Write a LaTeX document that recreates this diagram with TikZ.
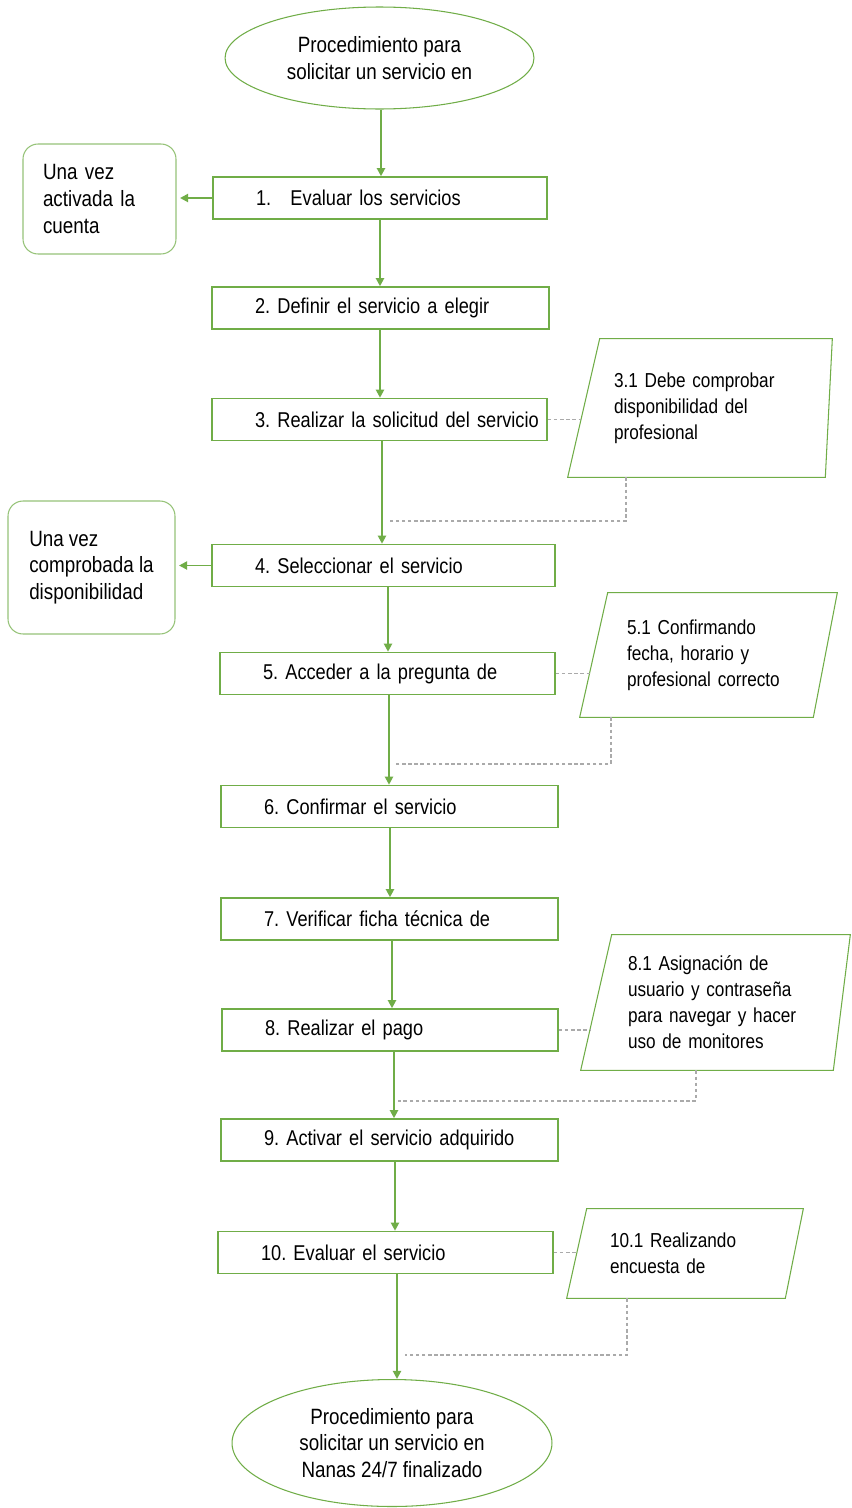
\documentclass[tikz,border=0pt]{standalone}
\usepackage{fontspec}
\setmainfont{Liberation Sans}[FakeStretch=0.85]
\usetikzlibrary{arrows.meta,shapes.geometric,calc}
\definecolor{stepgreen}{RGB}{112,173,71}
\definecolor{notegreen}{RGB}{150,195,120}
\definecolor{auxgray}{RGB}{170,170,170}
\frenchspacing
\hyphenpenalty=10000
\begin{document}
\begin{tikzpicture}[x=0.02cm,y=-0.02cm,>={Triangle[length=4.6pt,width=4.6pt]}]
	\tikzstyle{t-node}=[ellipse,draw=stepgreen,line width=0.6pt,inner sep=0pt,align=center]
	\tikzstyle{s-node}=[rectangle,draw=stepgreen,line width=0.9pt,inner xsep=0.1cm,minimum height=0.84cm,align=left,font=\fontsize{12.2pt}{15.1pt}\selectfont,execute at begin node={\hspace*{0.76cm}\hbox\bgroup},execute at end node={\egroup}]
	\tikzstyle{n-node}=[rectangle,rounded corners=0.3cm,draw=notegreen,line width=0.6pt,inner sep=0pt,align=left]
	\tikzstyle{p-node}=[rectangle,inner sep=0pt,align=left,font=\fontsize{11.5pt}{14.8pt}\selectfont]
	\tikzstyle{p-line}=[draw=stepgreen,line width=0.6pt]
	\tikzstyle{flow}=[->,draw=stepgreen,line width=1.1pt]
	\tikzstyle{aux}=[draw=auxgray,dash pattern=on 2pt off 1.5pt,line width=0.6pt]
	\useasboundingbox[fill=white] (0,0) rectangle (852,1508);
	\fontsize{12.6pt}{15.1pt}\selectfont

	% start / end
	\node[t-node,minimum width=6.18cm,minimum height=2.04cm] (start) at (379.5,58) {Procedimiento para\\solicitar un servicio en};
	\node[t-node,minimum width=6.4cm,minimum height=2.54cm] (stop) at (392,1443) {Procedimiento para\\solicitar un servicio en\\Nanas 24/7 finalizado};

	% steps
	\node[s-node,text width=6.48cm] (b1) at (380,198) {1.\hspace{0.9em}Evaluar los servicios};
	\node[s-node,text width=6.54cm] (b2) at (380.5,308) {2. Definir el servicio a elegir};
	\node[s-node,text width=6.50cm] (b3) at (379.5,419.5) {3. Realizar la solicitud del servicio};
	\node[s-node,text width=6.66cm] (b4) at (383.5,565.5) {4. Seleccionar el servicio};
	\node[s-node,text width=6.50cm] (b5) at (387.5,673.5) {5. Acceder a la pregunta de};
	\node[s-node,text width=6.54cm] (b6) at (389.5,806.5) {6. Confirmar el servicio};
	\node[s-node,text width=6.54cm] (b7) at (389.5,919) {7. Verificar ficha técnica de};
	\node[s-node,text width=6.52cm] (b8) at (390,1030) {8. Realizar el pago};
	\node[s-node,text width=6.54cm] (b9) at (389.5,1140) {9. Activar el servicio adquirido};
	\node[s-node,text width=6.50cm] (b10) at (385.5,1252.5) {10. Evaluar el servicio};

	% notes left
	\node[n-node,minimum width=3.06cm,minimum height=2.2cm,text width=2.26cm] (n1) at (99.5,199) {Una vez\\activada la\\cuenta};
	\node[n-node,minimum width=3.34cm,minimum height=2.66cm] (n2) at (91.5,567.5) {Una vez\\comprobada la\\disponibilidad};

	% notes right
	\node[p-node,minimum width=5.28cm,minimum height=2.76cm,text width=3.44cm] (p3) at (700,408) {3.1 Debe comprobar\\disponibilidad del\\profesional};
	\node[p-node,minimum width=5.14cm,minimum height=2.48cm,text width=3.26cm] (p5) at (708.5,655) {5.1 Confirmando\\fecha, horario y\\profesional correcto};
	\node[p-node,minimum width=5.38cm,minimum height=2.7cm,text width=3.5cm] (p8) at (715.5,1002.5) {8.1 Asignación de\\usuario y contraseña\\para navegar y hacer\\uso de monitores};
	\node[p-node,minimum width=4.72cm,minimum height=1.78cm,text width=3.0cm] (p10) at (685,1253.5) {10.1 Realizando\\encuesta de};
	\draw[p-line] ($(p3.north west)+(32,0)$) -- (p3.north east) -- ($(p3.south east)-(7,0)$) -- (p3.south west) -- cycle;
	\draw[p-line] ($(p5.north west)+(28,0)$) -- (p5.north east) -- ($(p5.south east)-(24,0)$) -- (p5.south west) -- cycle;
	\draw[p-line] ($(p8.north west)+(31,0)$) -- (p8.north east) -- ($(p8.south east)-(17,0)$) -- (p8.south west) -- cycle;
	\draw[p-line] ($(p10.north west)+(20,0)$) -- (p10.north east) -- ($(p10.south east)-(18,0)$) -- (p10.south west) -- cycle;

	% main flow
	\foreach \from/\to/\x in {start/b1/381, b1/b2/380, b2/b3/380, b3/b4/382, b4/b5/388, b5/b6/389, b6/b7/390, b7/b8/392, b8/b9/394, b9/b10/395, b10/stop/397}{
		\coordinate (ax) at (\x,0);
		\draw[flow] (\from.south -| ax) -- (\to.north -| ax);
	}
	\draw[flow,shorten >=2pt] (b1.west) -- (b1.west -| n1.east);
	\draw[flow,shorten >=2pt] (b4.west) -- (b4.west -| n2.east);

	% dotted links
	\coordinate (c3) at (626,521);	\coordinate (e3) at (390,521);
	\coordinate (c5) at (611,764);	\coordinate (e5) at (395,764);
	\coordinate (c8) at (696,1101);	\coordinate (e8) at (398,1101);
	\coordinate (c10) at (627,1355);	\coordinate (e10) at (405,1355);
	\draw[aux] (b3.east) -- ($(b3.east -| p3.west)+(13,0)$);
	\draw[aux] (b5.east) -- ($(b5.east -| p5.west)+(10,0)$);
	\draw[aux] (b8.east) -- ($(b8.east -| p8.west)+(9,0)$);
	\draw[aux] (b10.east) -- ($(b10.east -| p10.west)+(10,0)$);
	\draw[aux] (p3.south -| c3) -- (c3) -- (e3);
	\draw[aux] (p5.south -| c5) -- (c5) -- (e5);
	\draw[aux] (p8.south -| c8) -- (c8) -- (e8);
	\draw[aux] (p10.south -| c10) -- (c10) -- (e10);
\end{tikzpicture}
\end{document}
